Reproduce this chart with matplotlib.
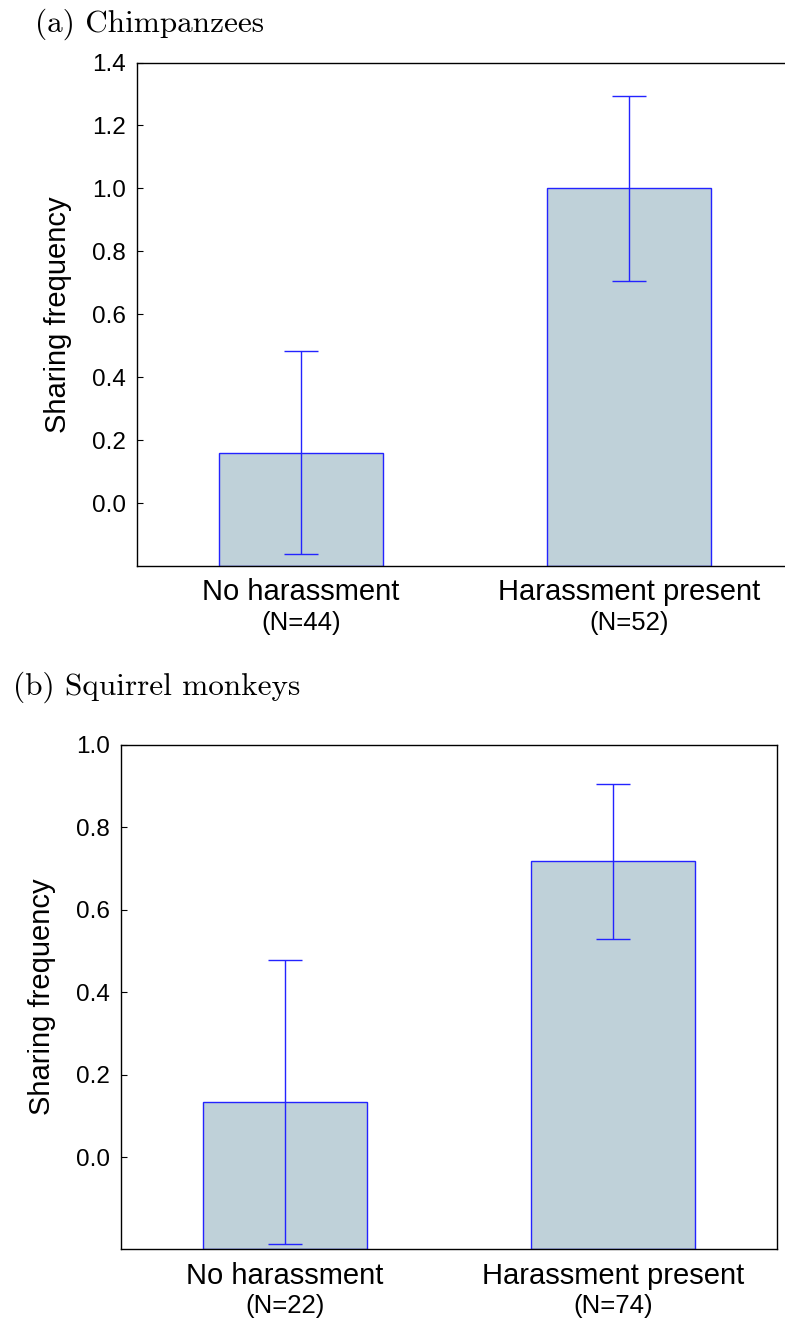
import numpy as np
import matplotlib
matplotlib.use("Agg")
import matplotlib.pyplot as plt

plt.rcParams['font.family'] = ['Liberation Sans', 'DejaVu Sans']

# data
groups = ["No harassment", "Harassment present"]
chimp_mean = [0.16, 1.00]
chimp_err = [0.322, 0.295]
chimp_n = [44, 52]
squirrel_mean = [0.134, 0.717]
squirrel_err = [0.344, 0.187]
squirrel_n = [22, 74]

bar_fill = "#bfd1d9"
blue = "#2323ff"

W, H = 785, 1324
fig = plt.figure(figsize=(W / 100, H / 100), dpi=100)


def draw_panel(ax, means, errs, ns, ylim, yticks):
    x = np.arange(len(means))
    # bars start at the bottom of the axis, not at zero
    base = ylim[0]
    heights = [m - base for m in means]
    ax.bar(x, heights, bottom=base, width=0.5, color=bar_fill, edgecolor=blue,
           linewidth=1.0, zorder=2)
    ax.errorbar(x, means, yerr=errs, fmt='none', ecolor=blue, elinewidth=1.0,
                capsize=12.3, capthick=1.0, zorder=3)
    ax.set_xlim(-0.5, 1.5)
    ax.set_ylim(*ylim)
    ax.set_yticks(yticks)
    ax.set_yticklabels([f"{t:.1f}" for t in yticks], fontsize=17.5)
    ax.tick_params(axis='y', direction='in', length=4, width=0.8, pad=8)
    ax.set_xticks(x)
    ax.set_xticklabels(groups, fontsize=21)
    ax.tick_params(axis='x', length=0, pad=9)
    for i, n in enumerate(ns):
        ax.annotate(f"(N={n})", xy=(i, 0), xycoords=('data', 'axes fraction'),
                    xytext=(0, -41), textcoords='offset points',
                    ha='center', va='center', fontsize=18.5)
    ax.set_ylabel("Sharing frequency", fontsize=21, labelpad=14)
    for s in ax.spines.values():
        s.set_linewidth(1.0)


# panel (a)
ax1 = fig.add_axes([137 / W, 1 - 566 / H, 656 / W, 503.5 / H])
draw_panel(ax1, chimp_mean, chimp_err, chimp_n, (-0.2, 1.4),
           [0.0, 0.2, 0.4, 0.6, 0.8, 1.0, 1.2, 1.4])

# panel (b)
ax2 = fig.add_axes([121 / W, 1 - 1249 / H, 656 / W, 504.5 / H])
draw_panel(ax2, squirrel_mean, squirrel_err, squirrel_n, (-0.222, 1.0),
           [0.0, 0.2, 0.4, 0.6, 0.8, 1.0])

title_font = ['cmr10', 'DejaVu Serif']
fig.text(35 / W, 1 - 32 / H, "(a) Chimpanzees", family=title_font,
         fontsize=22.5, va='baseline', ha='left')
fig.text(13 / W, 1 - 695 / H, "(b) Squirrel monkeys", family=title_font,
         fontsize=22.5, va='baseline', ha='left')

fig.savefig("out.png", dpi=100)
